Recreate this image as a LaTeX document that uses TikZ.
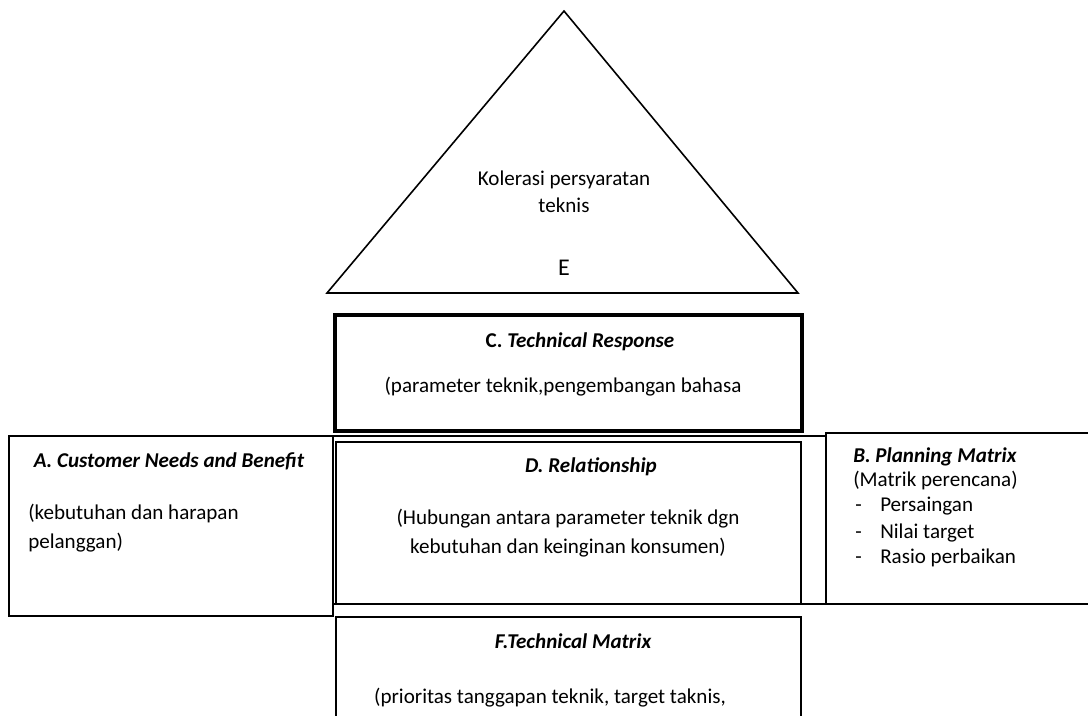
\documentclass[tikz,border=0pt]{standalone}
\usepackage{fontspec}
\setmainfont{Carlito}
\usetikzlibrary{fit}
\begin{document}
\begin{tikzpicture}[x=0.75pt,y=-0.75pt,
  thinbox/.style={draw, line width=1.3pt, inner sep=0pt},
  heavybox/.style={draw, line width=3.5pt, inner sep=0pt},
  txt/.style={inner sep=0pt, anchor=base, font=\fontsize{15.8}{19}\selectfont},
  txtl/.style={txt, anchor=base west},
  hd/.style={txt, font=\fontsize{15.8}{19}\selectfont\bfseries\itshape},
  hdl/.style={hd, anchor=base west}]
\useasboundingbox (0,0) rectangle (1088,715);
\clip (0,0) rectangle (1088,715);

% roof: correlation triangle
\coordinate (apex) at (564,11);
\coordinate (bl) at (327,293);
\coordinate (br) at (798,293);
\draw[line width=1.2pt, line join=miter] (bl) -- (apex) -- (br) -- cycle;
\node[txt] (e1) at (564,185) {Kolerasi persyaratan};
\node[txt] (e2) at (564,212) {teknis};
\node[txt, font=\fontsize{18}{21}\selectfont] (e3) at (564,275) {E};

% frame around the relationship block
\node[thinbox, fit={(333,436) (826,604)}] (frame) {};

% D. relationship
\node[thinbox, fit={(336,442) (801,604)}] (D) {};
\node[hd] (d1) at (591,472) {D. Relationship};
\node[txt] (d2) at (568,524) {(Hubungan antara parameter teknik dgn};
\node[txt] (d3) at (568,553) {kebutuhan dan keinginan konsumen)};

% C. technical response
\node[heavybox, fit={(335,315) (802,431)}] (C) {};
\node[txt, font=\fontsize{15.8}{19}\selectfont\bfseries] (c1) at (580,347) {C. \textit{Technical Response}};
\node[txt] (c2) at (563,392) {(parameter teknik,pengembangan bahasa};

% A. customer needs
\node[thinbox, fit={(9,436) (333,616)}] (A) {};
\node[hd] (a1) at (169,467) {A. Customer Needs and Benefit};
\node[txtl] (a2) at (28,519) {(kebutuhan dan harapan};
\node[txtl] (a3) at (28,548) {pelanggan)};

% B. planning matrix
\node[thinbox, fit={(826,433) (1100,604)}] (B) {};
\node[hdl] (b1) at (853,462) {B. Planning Matrix};
\node[txtl] (b2) at (853,486) {(Matrik perencana)};
\node[txtl] (b3d) at (855,511) {-};
\node[txtl] (b3) at (880,511) {Persaingan};
\node[txtl] (b4d) at (855,538) {-};
\node[txtl] (b4) at (880,538) {Nilai target};
\node[txtl] (b5d) at (855,563) {-};
\node[txtl] (b5) at (880,563) {Rasio perbaikan};

% F. technical matrix
\node[thinbox, fit={(336,617) (801,740)}] (F) {};
\node[hd] (f1) at (573,648) {F.Technical Matrix};
\node[txt] (f2) at (550,703) {(prioritas tanggapan teknik, target taknis,};
\end{tikzpicture}
\end{document}
